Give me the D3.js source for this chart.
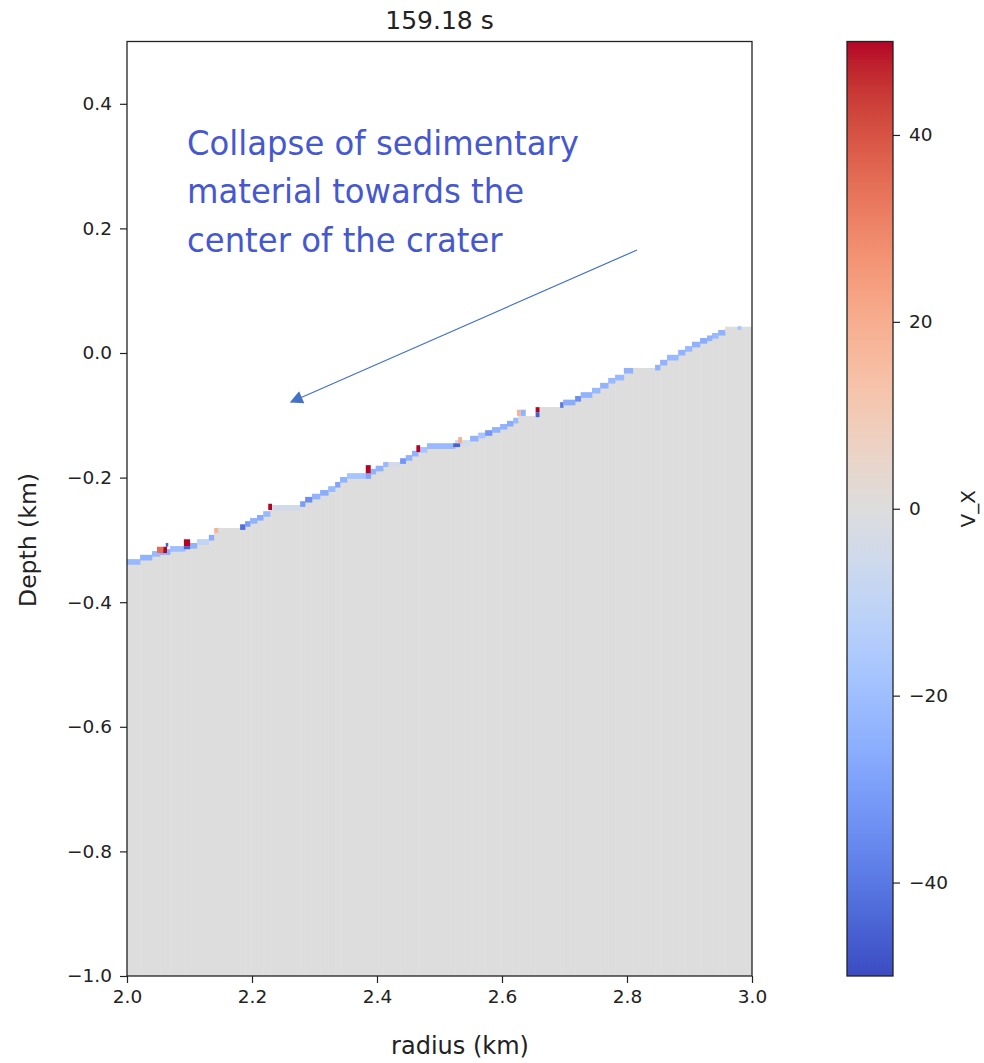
<!DOCTYPE html>
<html>
<head>
<meta charset="utf-8">
<script src="https://cdn.jsdelivr.net/npm/d3@7"></script>
<style>
  html, body { margin: 0; padding: 0; background: #fff; }
  svg text { font-family: "DejaVu Sans", sans-serif; fill: #222; }
</style>
</head>
<body>
<svg id="chart" width="984" height="1063"></svg>
<script>
// ---- Surface profile: horizontal runs of the stepped ground surface (km) ----
// each run: left radius, right radius, top depth, V_X of the top cell
const segR0 = [2.000, 2.021, 2.040, 2.053, 2.069, 2.093, 2.112, 2.131, 2.139, 2.181,
               2.189, 2.197, 2.208, 2.218, 2.229, 2.277, 2.285, 2.296, 2.309, 2.322,
               2.333, 2.341, 2.352, 2.382, 2.390, 2.398, 2.410, 2.437, 2.446, 2.456,
               2.466, 2.480, 2.525, 2.549, 2.562, 2.573, 2.584, 2.597, 2.608, 2.618,
               2.626, 2.653, 2.693, 2.698, 2.717, 2.726, 2.744, 2.757, 2.770, 2.781,
               2.795, 2.810, 2.845, 2.853, 2.864, 2.882, 2.893, 2.904, 2.917, 2.928,
               2.936, 2.946, 2.957];
const segR1 = [2.021, 2.040, 2.053, 2.069, 2.093, 2.112, 2.131, 2.139, 2.181, 2.189,
               2.197, 2.208, 2.218, 2.229, 2.277, 2.285, 2.296, 2.309, 2.322, 2.333,
               2.341, 2.352, 2.382, 2.390, 2.398, 2.410, 2.437, 2.446, 2.456, 2.466,
               2.480, 2.525, 2.549, 2.562, 2.573, 2.584, 2.597, 2.608, 2.618, 2.626,
               2.653, 2.693, 2.698, 2.717, 2.726, 2.744, 2.757, 2.770, 2.781, 2.795,
               2.810, 2.845, 2.853, 2.864, 2.882, 2.893, 2.904, 2.917, 2.928, 2.936,
               2.946, 2.957, 3.000];
const segTop = [-0.331, -0.324, -0.318, -0.315, -0.310, -0.305, -0.299, -0.292, -0.281, -0.275,
                -0.270, -0.265, -0.260, -0.254, -0.244, -0.238, -0.231, -0.226, -0.220, -0.214,
                -0.207, -0.199, -0.193, -0.193, -0.186, -0.181, -0.175, -0.169, -0.164, -0.157,
                -0.151, -0.145, -0.140, -0.133, -0.128, -0.124, -0.119, -0.114, -0.109, -0.104,
                -0.101, -0.087, -0.079, -0.075, -0.069, -0.063, -0.056, -0.048, -0.040, -0.035,
                -0.024, -0.024, -0.019, -0.011, -0.003, 0.005, 0.011, 0.018, 0.024, 0.028,
                0.032, 0.037, 0.042];
const segV = [-22, -24, -22, -26, -20, -24, -10, -26, 0, -42,
              -30, -24, -26, -22, -5, -30, -34, -24, -26, -22,
              -28, -24, -18, -28, -24, -24, -3, -32, -24, -24,
              -18, -22, -5, -24, -18, -32, -24, -24, -26, -22,
              0, 0, -40, -26, -34, -24, -22, -24, -22, -22,
              -24, 0, -24, -24, -22, -24, -22, -24, -26, -24,
              -22, -24, 0];

// ---- Individual cells with strong V_X along the surface ----
const cellR0  = [2.048, 2.058, 2.062, 2.091, 2.091, 2.140, 2.226, 2.382, 2.410, 2.463,
                 2.522, 2.530, 2.624, 2.630, 2.654, 2.654, 2.977];
const cellR1  = [2.058, 2.064, 2.066, 2.101, 2.101, 2.146, 2.232, 2.390, 2.418, 2.469,
                 2.533, 2.536, 2.630, 2.638, 2.660, 2.660, 2.983];
const cellTop = [-0.311, -0.311, -0.305, -0.299, -0.310, -0.281, -0.242, -0.180, -0.175, -0.148,
                 -0.145, -0.135, -0.091, -0.091, -0.087, -0.095, 0.043];
const cellBot = [-0.321, -0.321, -0.311, -0.310, -0.315, -0.289, -0.252, -0.193, -0.183, -0.159,
                 -0.151, -0.145, -0.101, -0.101, -0.095, -0.103, 0.037];
const cellV   = [35, 50, -45, 50, -45, 18, 50, 50, -22, 50,
                 -45, 20, 18, -24, 50, -45, -18];

const bandDepth = 0.009;            // thickness of the surface cell layer (km)

// ---- Axes ----
const xTicks = [2.0, 2.2, 2.4, 2.6, 2.8, 3.0];
const yTicks = [0.4, 0.2, 0.0, -0.2, -0.4, -0.6, -0.8, -1.0];
const cbTicks = [-40, -20, 0, 20, 40];
const titleText = "159.18 s";
const noteLines = ["Collapse of sedimentary", "material towards the", "center of the crater"];

// coolwarm colour map stops
const coolwarm = ["#3b4cc0", "#445acc", "#4d68d7", "#5775e1", "#6282ea", "#6c8ef1", "#779af7",
  "#82a5fb", "#8db0fe", "#98b9ff", "#a3c2ff", "#aec9fd", "#b8d0f9", "#c2d5f4", "#ccd9ee",
  "#d5dbe6", "#dddddd", "#e5d8d1", "#ecd3c5", "#f1ccb8", "#f5c4ac", "#f7bba0", "#f7b194",
  "#f7a688", "#f49a7b", "#f18d6f", "#ec7f63", "#e57058", "#de604d", "#d55042", "#cb3e38",
  "#c0282f", "#b40426"];

const svg = d3.select("#chart");

const x = d3.scaleLinear().domain([2, 3]).range([127, 752]);
const y = d3.scaleLinear().domain([-1, 0.5]).range([976, 41.5]);

const vmin = -50, vmax = 50;
const color = d3.scaleLinear()
  .domain(coolwarm.map((_, i) => vmin + (vmax - vmin) * i / (coolwarm.length - 1)))
  .range(coolwarm)
  .interpolate(d3.interpolateRgb)
  .clamp(true);

// plot area clip
const defs = svg.append("defs");
defs.append("clipPath").attr("id", "plotclip")
  .append("rect").attr("x", x(2)).attr("y", y(0.5))
  .attr("width", x(3) - x(2)).attr("height", y(-1) - y(0.5));

const plot = svg.append("g").attr("clip-path", "url(#plotclip)");

const segs = segR0.map((r0, i) => ({ r0, r1: segR1[i], top: segTop[i], v: segV[i] }));

// ground body below the surface (V_X = 0)
plot.append("g").selectAll("rect").data(segs).join("rect")
  .attr("x", d => x(d.r0))
  .attr("width", d => x(d.r1) - x(d.r0) + 0.5)
  .attr("y", d => y(d.top))
  .attr("height", d => y(-1) - y(d.top))
  .attr("fill", color(0));

// top layer of cells along the surface
plot.append("g").selectAll("rect").data(segs).join("rect")
  .attr("x", d => x(d.r0))
  .attr("width", d => x(d.r1) - x(d.r0) + 0.3)
  .attr("y", d => y(d.top))
  .attr("height", d => y(d.top - bandDepth) - y(d.top))
  .attr("fill", d => color(d.v));

const cells = cellR0.map((r0, i) => ({ r0, r1: cellR1[i], top: cellTop[i], bot: cellBot[i], v: cellV[i] }));
plot.append("g").selectAll("rect").data(cells).join("rect")
  .attr("x", d => x(d.r0))
  .attr("width", d => x(d.r1) - x(d.r0))
  .attr("y", d => y(d.top))
  .attr("height", d => y(d.bot) - y(d.top))
  .attr("fill", d => color(d.v));

// frame
svg.append("rect")
  .attr("x", x(2)).attr("y", y(0.5))
  .attr("width", x(3) - x(2)).attr("height", y(-1) - y(0.5))
  .attr("fill", "none").attr("stroke", "#222").attr("stroke-width", 1.3);

const fmt = d3.format(".1f");
const xAxis = svg.append("g").attr("transform", `translate(0,${y(-1)})`)
  .call(d3.axisBottom(x).tickValues(xTicks).tickFormat(fmt).tickSize(7).tickPadding(7));
const yAxis = svg.append("g").attr("transform", `translate(${x(2)},0)`)
  .call(d3.axisLeft(y).tickValues(yTicks).tickFormat(fmt).tickSize(7).tickPadding(8));
[xAxis, yAxis].forEach(g => {
  g.select(".domain").remove();
  g.selectAll(".tick line").attr("stroke", "#222").attr("stroke-width", 1.2);
  g.selectAll(".tick text").attr("font-size", 18.5).attr("fill", "#222")
    .attr("font-family", "DejaVu Sans, sans-serif");
});

// axis titles
svg.append("text").attr("x", 460).attr("y", 1054).attr("text-anchor", "middle")
  .attr("font-size", 24).text("radius (km)");
svg.append("text").attr("transform", "translate(36,540) rotate(-90)")
  .attr("text-anchor", "middle").attr("font-size", 23.5).text("Depth (km)");

// title
svg.append("text").attr("x", (x(2) + x(3)) / 2).attr("y", 29).attr("text-anchor", "middle")
  .attr("font-size", 25).text(titleText);

// ---- colour bar ----
const cbX = 847, cbW = 46;
const cy = d3.scaleLinear().domain([vmin, vmax]).range([y(-1), y(0.5)]);
const grad = defs.append("linearGradient").attr("id", "cbgrad")
  .attr("x1", 0).attr("y1", 1).attr("x2", 0).attr("y2", 0);
grad.selectAll("stop").data(d3.range(vmin, vmax + 0.01, 2.5)).join("stop")
  .attr("offset", d => (d - vmin) / (vmax - vmin))
  .attr("stop-color", d => color(d));
svg.append("rect").attr("x", cbX).attr("y", cy(vmax))
  .attr("width", cbW).attr("height", cy(vmin) - cy(vmax))
  .attr("fill", "url(#cbgrad)").attr("stroke", "#222").attr("stroke-width", 1.3);
const cbAxis = svg.append("g").attr("transform", `translate(${cbX + cbW},0)`)
  .call(d3.axisRight(cy).tickValues(cbTicks).tickFormat(d3.format("d")).tickSize(7).tickPadding(9));
cbAxis.select(".domain").remove();
cbAxis.selectAll(".tick line").attr("stroke", "#222").attr("stroke-width", 1.2);
cbAxis.selectAll(".tick text").attr("font-size", 18.5).attr("fill", "#222")
  .attr("font-family", "DejaVu Sans, sans-serif");
svg.append("text").attr("transform", `translate(975,${cy(0)}) rotate(-90)`)
  .attr("text-anchor", "middle").attr("font-size", 20).text("V_X");

// ---- annotation ----
const note = svg.append("g");
const noteBlock = note.append("g");
const noteText = noteBlock.selectAll("text").data(noteLines).join("text")
  .attr("x", 0).attr("y", (d, i) => 155 + i * 48.5)
  .attr("font-family", "Lato, 'Open Sans', sans-serif")
  .attr("font-size", 33.5)
  .style("fill", "#4658cf")
  .text(d => d);
// fit the note horizontally so its first line spans 392px
const w0 = noteText.node().getComputedTextLength();
noteBlock.attr("transform", `translate(187,0) scale(${392 / w0},1)`);

defs.append("marker").attr("id", "arrowhead")
  .attr("viewBox", "0 0 10 10").attr("refX", 9).attr("refY", 5)
  .attr("markerUnits", "userSpaceOnUse").attr("markerWidth", 17).attr("markerHeight", 13)
  .attr("orient", "auto")
  .append("path").attr("d", "M0,0 L10,5 L0,10 Z").attr("fill", "#4472c4");
note.append("line")
  .attr("x1", 637).attr("y1", 250).attr("x2", 291).attr("y2", 402)
  .attr("stroke", "#4472c4").attr("stroke-width", 1.2)
  .attr("marker-end", "url(#arrowhead)");
</script>
</body>
</html>
